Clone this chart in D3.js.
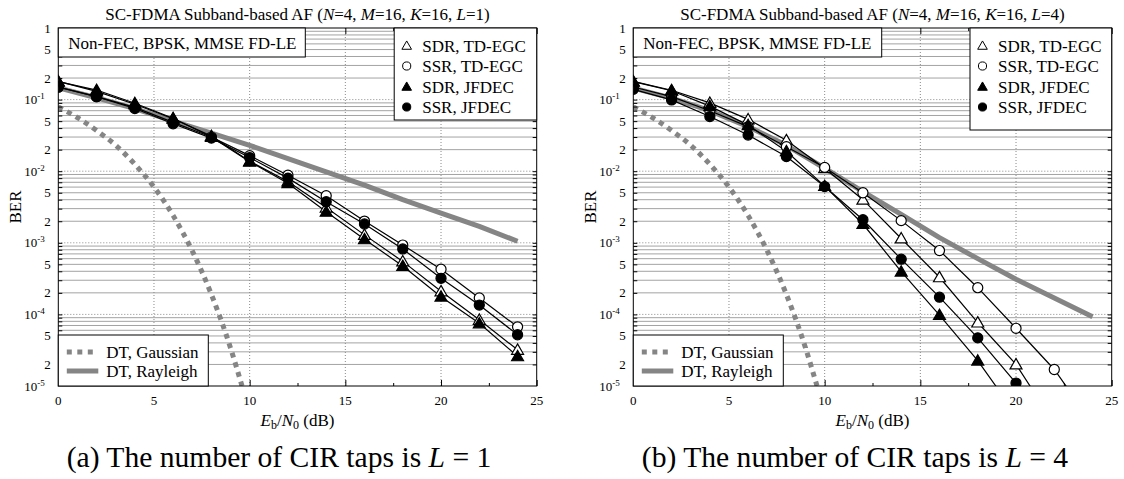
<!DOCTYPE html>
<html><head><meta charset="utf-8">
<script src="https://cdn.jsdelivr.net/npm/d3@7"></script>
<style>
body{margin:0;background:#fff;}
</style></head><body>
<svg id="fig" width="1124" height="479" font-family="'Liberation Serif', 'Times New Roman', Times, 'DejaVu Serif', serif"></svg>
<script>
// ---- data ----
const snrDB = [0, 2, 4, 6, 8, 10, 12, 14, 16, 18, 20, 22, 24];
const seriesNames = ["SDR, TD-EGC", "SSR, TD-EGC", "SDR, JFDEC", "SSR, JFDEC"];

// L = 1
const l1SdrTdegc = [0.18, 0.13, 0.086, 0.054, 0.031, 0.0138, 0.0072, 0.0031, 0.00129, 0.00055, 0.00021, 8.4e-5, 3.2e-5];
const l1SsrTdegc = [0.15, 0.11, 0.078, 0.048, 0.030, 0.0165, 0.0088, 0.00455, 0.00201, 0.00093, 0.000427, 0.00017, 6.7e-5];
const l1SdrJfdec = [0.178, 0.136, 0.089, 0.055, 0.030, 0.0136, 0.0068, 0.00272, 0.00112, 0.000474, 0.000177, 7.5e-5, 2.6e-5];
const l1SsrJfdec = [0.149, 0.11, 0.075, 0.046, 0.029, 0.0155, 0.0080, 0.00375, 0.00183, 0.00082, 0.000319, 0.000135, 5.2e-5];
const l1Rayleigh = [0.146, 0.106, 0.075, 0.05, 0.034, 0.023, 0.015, 0.0098, 0.0064, 0.004, 0.0026, 0.0017, 0.00105];

// L = 4
const l4SdrTdegc = [0.18, 0.135, 0.09, 0.053, 0.027, 0.011, 0.0040, 0.00115, 0.00033, 7.7e-5, 2.0e-5, 3e-6, null];
const l4SsrTdegc = [0.15, 0.11, 0.07, 0.042, 0.022, 0.0113, 0.0050, 0.00204, 0.00078, 0.000236, 6.4e-5, 1.7e-5, 3e-6];
const l4SdrJfdec = [0.178, 0.133, 0.081, 0.044, 0.019, 0.0062, 0.00183, 0.000396, 9.8e-5, 2.26e-5, 4e-6, null, null];
const l4SsrJfdec = [0.139, 0.099, 0.058, 0.032, 0.016, 0.0061, 0.0021, 0.00059, 0.000174, 4.7e-5, 1.1e-5, 2e-6, null];
const l4Rayleigh = [0.145, 0.105, 0.07, 0.042, 0.023, 0.011, 0.0052, 0.0025, 0.00118, 0.0006, 0.00031, 0.00017, 9.3e-5];

// Gaussian (AWGN) reference curve
const gaussSnr = [0, 1, 2, 3, 4, 5, 6, 7, 8, 9, 9.6];
const gaussBer = [0.079, 0.056, 0.037, 0.023, 0.0125, 0.006, 0.0024, 0.00077, 0.00019, 3.4e-5, 1e-5];

// axis ticks
const xTickValues = [0, 5, 10, 15, 20, 25];
const xMinorTicks = [2.5, 7.5, 12.5, 17.5, 22.5];
const yTickValues = [1, 0.5, 0.2, 0.1, 0.05, 0.02, 0.01, 0.005, 0.002, 0.001, 5e-4, 2e-4, 1e-4, 5e-5, 2e-5, 1e-5];
const yTickBase = ["1", "5", "2", "10", "5", "2", "10", "5", "2", "10", "5", "2", "10", "5", "2", "10"];
const yTickExp  = ["", "", "", "-1", "", "", "-2", "", "", "-3", "", "", "-4", "", "", "-5"];

// ---- drawing ----
const svg = d3.select("#fig");
const PW = 478.4, PT = 28, PH = 358;
const GRAY = "#858585";

const minorVals = [];
for (let k = -5; k <= -1; k++) for (let m = 2; m <= 9; m++) minorVals.push(m * Math.pow(10, k));
const decadeVals = [1e-4, 1e-3, 1e-2, 1e-1];

function panel(p) {
  const x = d3.scaleLinear().domain([0, 25]).range([p.x0, p.x0 + PW]);
  const y = d3.scaleLog().domain([1e-5, 1]).range([PT + PH, PT]);
  const g = svg.append("g");

  const clipId = "clip" + p.id;
  svg.append("defs").append("clipPath").attr("id", clipId)
    .append("rect").attr("x", p.x0).attr("y", PT).attr("width", PW).attr("height", PH);

  // grid
  g.append("g").selectAll("line").data(minorVals).join("line")
    .attr("x1", p.x0).attr("x2", p.x0 + PW)
    .attr("y1", d => y(d)).attr("y2", d => y(d))
    .attr("stroke", "#a3a3a3").attr("stroke-width", 1);
  g.append("g").selectAll("line").data(decadeVals).join("line")
    .attr("x1", p.x0).attr("x2", p.x0 + PW)
    .attr("y1", d => y(d)).attr("y2", d => y(d))
    .attr("stroke", "#8a8a8a").attr("stroke-width", 1).attr("stroke-dasharray", "1,2");
  g.append("g").selectAll("line").data([5, 10, 15, 20]).join("line")
    .attr("x1", d => x(d)).attr("x2", d => x(d))
    .attr("y1", PT).attr("y2", PT + PH)
    .attr("stroke", "#8a8a8a").attr("stroke-width", 1).attr("stroke-dasharray", "1,2");

  const plot = g.append("g").attr("clip-path", `url(#${clipId})`);

  // reference curves
  const gLine = d3.line().x(d => x(d[0])).y(d => y(d[1])).curve(d3.curveMonotoneX);
  plot.append("path").datum(gaussSnr.map((s, i) => [s, gaussBer[i]]))
    .attr("d", gLine).attr("fill", "none").attr("stroke", GRAY)
    .attr("stroke-width", 5).attr("stroke-dasharray", "5,5");
  const lin = d3.line().defined(d => d[1] != null).x(d => x(d[0])).y(d => y(d[1]));
  plot.append("path").datum(snrDB.map((s, i) => [s, p.rayleigh[i]]))
    .attr("d", lin).attr("fill", "none").attr("stroke", GRAY)
    .attr("stroke-width", 5).attr("stroke-linejoin", "round");

  // BER curves
  p.series.forEach(vals => {
    plot.append("path").datum(snrDB.map((s, i) => [s, vals[i]]))
      .attr("d", lin).attr("fill", "none").attr("stroke", "#000").attr("stroke-width", 1.2);
  });
  const symTypes = [d3.symbolTriangle, d3.symbolCircle, d3.symbolTriangle, d3.symbolCircle];
  const symSizes = [62, 80, 62, 80];
  const symFill = ["#fff", "#fff", "#000", "#000"];
  p.series.forEach((vals, k) => {
    const pts = snrDB.map((s, i) => [s, vals[i]]).filter(d => d[1] != null && d[1] >= 1e-5);
    plot.append("g").selectAll("path").data(pts).join("path")
      .attr("transform", d => `translate(${x(d[0])},${y(d[1]) + (k % 2 === 0 ? 1 : 0)})`)
      .attr("d", d3.symbol().type(symTypes[k]).size(symSizes[k]))
      .attr("fill", symFill[k]).attr("stroke", "#000").attr("stroke-width", 1.2);
  });

  // axes (inward ticks on all four sides)
  const ax = g.append("g");
  ax.append("g").attr("transform", `translate(0,${PT + PH})`)
    .call(d3.axisBottom(x).tickValues(xTickValues).tickSizeInner(-6).tickSizeOuter(0).tickFormat(""));
  ax.append("g").attr("transform", `translate(0,${PT + PH})`)
    .call(d3.axisBottom(x).tickValues(xMinorTicks).tickSizeInner(-3).tickSizeOuter(0).tickFormat(""));
  ax.append("g").attr("transform", `translate(0,${PT})`)
    .call(d3.axisTop(x).tickValues(xTickValues).tickSizeInner(-6).tickSizeOuter(0).tickFormat(""));
  ax.append("g").attr("transform", `translate(0,${PT})`)
    .call(d3.axisTop(x).tickValues(xMinorTicks).tickSizeInner(-3).tickSizeOuter(0).tickFormat(""));
  ax.append("g").attr("transform", `translate(${p.x0},0)`)
    .call(d3.axisLeft(y).tickValues(minorVals.concat(decadeVals)).tickSizeInner(-4).tickSizeOuter(0).tickFormat(""));
  ax.append("g").attr("transform", `translate(${p.x0 + PW},0)`)
    .call(d3.axisRight(y).tickValues(minorVals.concat(decadeVals)).tickSizeInner(-4).tickSizeOuter(0).tickFormat(""));
  ax.selectAll(".domain").remove();
  ax.selectAll("line").attr("stroke", "#000");
  ax.selectAll("text").remove();
  ax.selectAll("g").attr("font-family", null);

  // tick labels
  g.append("g").selectAll("text").data(xTickValues).join("text")
    .attr("x", d => x(d)).attr("y", 405).attr("text-anchor", "middle")
    .attr("font-size", 13).text(d => d);
  const yl = g.append("g").selectAll("text").data(yTickValues).join("text")
    .attr("x", (d, i) => yTickExp[i] ? p.x0 - 13.5 : p.x0 - 7.5)
    .attr("y", d => y(d) + 4.5).attr("text-anchor", "end").attr("font-size", 13);
  yl.each(function (d, i) {
    const t = d3.select(this);
    t.append("tspan").text(yTickBase[i]);
    if (yTickExp[i]) {
      t.append("tspan").attr("font-size", 9).attr("dy", -5).text(yTickExp[i]);
    }
  });

  // frame
  g.append("rect").attr("x", p.x0).attr("y", PT).attr("width", PW).attr("height", PH)
    .attr("fill", "none").attr("stroke", "#000").attr("stroke-width", 1);

  // title
  const cx = p.x0 + PW / 2;
  const tt = g.append("text").attr("x", cx).attr("y", 20).attr("text-anchor", "middle").attr("font-size", 17);
  tt.append("tspan").text("SC-FDMA Subband-based AF (");
  [["N", "=4, "], ["M", "=16, "], ["K", "=16, "], ["L", "=" + p.L + ")"]].forEach(([v, r]) => {
    tt.append("tspan").attr("font-style", "italic").text(v);
    tt.append("tspan").text(r);
  });

  // axis titles
  const xt = g.append("text").attr("x", cx).attr("y", 426).attr("text-anchor", "middle").attr("font-size", 17);
  xt.append("tspan").attr("font-style", "italic").text("E");
  xt.append("tspan").attr("font-size", 12).attr("dy", 3).text("b");
  xt.append("tspan").attr("dy", -3).text("/");
  xt.append("tspan").attr("font-style", "italic").text("N");
  xt.append("tspan").attr("font-size", 12).attr("dy", 3).text("0");
  xt.append("tspan").attr("dy", -3).text(" (dB)");
  g.append("text").attr("transform", `translate(${p.x0 - 37},${PT + PH / 2}) rotate(-90)`)
    .attr("text-anchor", "middle").attr("font-size", 17).text("BER");

  // top-left condition box
  g.append("rect").attr("x", p.x0).attr("y", PT).attr("width", p.condW).attr("height", 29)
    .attr("fill", "#fff").attr("stroke", "#000");
  g.append("text").attr("x", p.x0 + 10).attr("y", 49).attr("font-size", 17).text("Non-FEC, BPSK, MMSE FD-LE");

  // series legend (top right)
  const lx = p.x0 + PW - p.legW;
  g.append("rect").attr("x", lx).attr("y", PT).attr("width", p.legW).attr("height", p.legH)
    .attr("fill", "#fff").attr("stroke", "#000");
  const legSizes = [40, 52, 40, 52];
  seriesNames.forEach((name, k) => {
    const yy = 45.5 + k * 20.5;
    g.append("path").attr("transform", `translate(${lx + 12.5},${yy + (k % 2 === 0 ? 1 : 0)})`)
      .attr("d", d3.symbol().type(symTypes[k]).size(legSizes[k]))
      .attr("fill", symFill[k]).attr("stroke", "#000").attr("stroke-width", 1);
    g.append("text").attr("x", lx + 28).attr("y", yy + 6).attr("font-size", 17).text(name);
  });

  // reference legend (bottom left)
  g.append("rect").attr("x", p.x0).attr("y", 335).attr("width", 150).attr("height", PT + PH - 335)
    .attr("fill", "#fff").attr("stroke", "#000");
  g.append("line").attr("x1", p.x0 + 8.5).attr("x2", p.x0 + 34.5).attr("y1", 352).attr("y2", 352)
    .attr("stroke", GRAY).attr("stroke-width", 5).attr("stroke-dasharray", "5,5.5");
  g.append("line").attr("x1", p.x0 + 8.5).attr("x2", p.x0 + 40).attr("y1", 371).attr("y2", 371)
    .attr("stroke", GRAY).attr("stroke-width", 5);
  g.append("text").attr("x", p.x0 + 48).attr("y", 357.5).attr("font-size", 17).text("DT, Gaussian");
  g.append("text").attr("x", p.x0 + 48).attr("y", 377).attr("font-size", 17).text("DT, Rayleigh");

  // caption
  const cap = svg.append("text").attr("x", p.capX).attr("y", 467).attr("text-anchor", "middle")
    .attr("font-size", 29.6);
  cap.append("tspan").text(p.capTag + " The number of CIR taps is ");
  cap.append("tspan").attr("font-style", "italic").text("L");
  cap.append("tspan").text(" = " + p.L);
}

panel({ id: "a", x0: 58.3, L: 1, series: [l1SdrTdegc, l1SsrTdegc, l1SdrJfdec, l1SsrJfdec],
        rayleigh: l1Rayleigh, condW: 247, legW: 142.5, legH: 92, capX: 279, capTag: "(a)" });
panel({ id: "b", x0: 633.3, L: 4, series: [l4SdrTdegc, l4SsrTdegc, l4SdrJfdec, l4SsrJfdec],
        rayleigh: l4Rayleigh, condW: 248.4, legW: 141.7, legH: 102, capX: 855, capTag: "(b)" });
</script>
</body></html>
